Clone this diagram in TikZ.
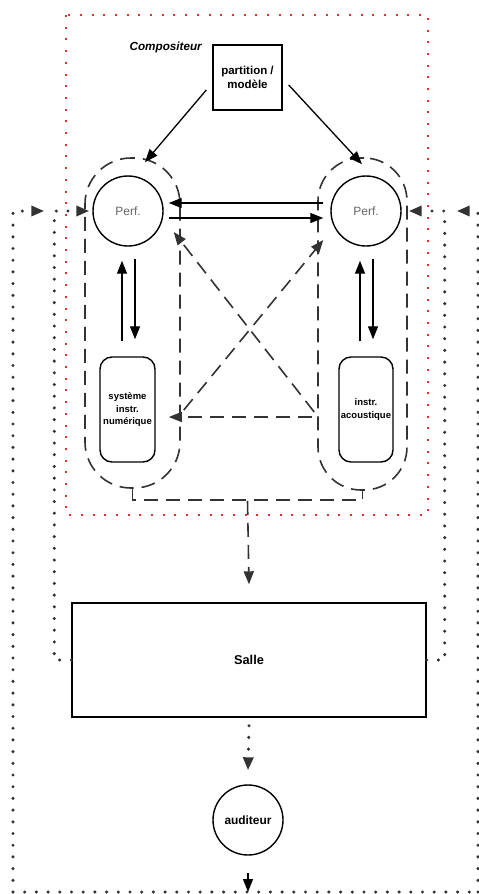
\documentclass[tikz,border=0pt]{standalone}
\usepackage{fontspec}
\setmainfont{Liberation Sans}
\usetikzlibrary{
    arrows.meta,
    positioning,
    calc
}

\begin{document}
\begin{tikzpicture}[
    x=1pt,y=-1pt,
    font=\fontsize{11.5}{14}\selectfont,
    box/.style={draw,line width=1.4pt,inner sep=0pt,align=center},
    perf/.style={circle,draw,line width=1.4pt,minimum size=70pt,inner sep=0pt,text=black!60,font=\fontsize{12}{14}\selectfont},
    instr/.style={box,rounded corners=12pt,minimum width=55pt,minimum height=105pt,font=\bfseries\fontsize{9.5}{12.5}\selectfont},
    group/.style={draw=black!80,line width=1.6pt,dash pattern=on 14pt off 8pt,inner sep=0pt},
    arr/.style={-{Triangle[length=13pt,width=10pt]},line width=1.3pt},
    dasharr/.style={arr,draw=black!80,line width=1.6pt,dash pattern=on 14pt off 8pt},
    dotline/.style={line width=3.4pt,line cap=round,dash pattern=on 0pt off 11.7pt,draw=black!80},
    dotarr/.style={dotline,-{Triangle[length=13pt,width=10pt]}},
    reddot/.style={draw=red!80!black!80,line width=2.8pt,dash pattern=on 2pt off 9.7pt}
]
    \useasboundingbox (0,0) rectangle (479,894);

    % Compositeur frame
    \draw[reddot] (66,15) rectangle (428,515);

    \node[box,minimum width=69pt,minimum height=65pt,font=\bfseries\fontsize{11.5}{14}\selectfont] (comp) at (247.5,77.5) {partition /\\modèle};
    \node[anchor=east,font=\bfseries\itshape\fontsize{11.7}{14}\selectfont] (compo) at ($(comp.north west)+(-7,3)$) {Compositeur};

    % performer + instrument groups
    \node[group,minimum width=95pt,minimum height=330pt,rounded corners=46pt] (groupL) at (132.5,323) {};
    \node[group,minimum width=89pt,minimum height=332pt,rounded corners=43pt] (groupR) at (362.5,324) {};

    \node[perf] (perfL) at (128,211) {Perf.};
    \node[perf] (perfR) at (366,211) {Perf.};
    \node[instr] (numL) at (127.5,409.5) {système\\instr.\\numérique};
    \node[instr,minimum width=54pt] (acoR) at (366,409.5) {instr.\\acoustique};

    \draw[arr] ($(comp.west)+(-6,12.5)$) -- ($(groupL.north)+(12.5,5)$);
    \draw[arr] ($(comp.east)+(6,7.5)$) -- ($(groupR.north)+(-0.5,7)$);

    \draw[arr] ($(perfR.west)+(-7,-8)$) -- ($(perfL.east)+(5,-8)$);
    \draw[arr] ($(perfL.east)+(5,7)$) -- ($(perfR.west)+(-7,7)$);

    \draw[arr] ($(numL.north)+(-5.5,-15)$) -- ($(perfL.south)+(-6,14)$);
    \draw[arr] ($(perfL.south)+(7,12)$) -- ($(numL.north)+(7.5,-17)$);
    \draw[arr] ($(acoR.north)+(-6,-15)$) -- ($(perfR.south)+(-6,14)$);
    \draw[arr] ($(perfR.south)+(7,12)$) -- ($(acoR.north)+(7,-17)$);

    % crossed exchanges
    \draw[dasharr] ($(groupR.west)+(-3,88)$) -- ($(perfL.east)+(10,21)$);
    \draw[dasharr] ($(groupL.east)+(3,87)$) -- ($(perfR.west)+(-7,29)$);
    \draw[dasharr] ($(groupR.west)+(-5,93)$) -- ($(groupL.east)+(-12,94)$);

    % towards the hall
    \coordinate (mid) at ($(groupL.south)!0.5!(groupR.south)+(0,11)$);
    \draw[group] (groupL.south) -- ++(0,11) -| (groupR.south);
    \node[box,minimum width=354pt,minimum height=114pt,font=\bfseries\fontsize{12.8}{15}\selectfont] (salle) at (249,660) {Salle};
    \draw[dasharr] (mid) -- ($(salle.north)+(0,-18)$);

    \node[perf,text=black,font=\bfseries\fontsize{11.9}{14}\selectfont] (aud) at (248,820) {auditeur};
    \draw[dotarr] ($(salle.south)+(0,8)$) -- ($(aud.north)+(0,-14)$);

    % feedback loops
    \coordinate (bl) at (13,892);
    \coordinate (br) at (478,892);
    \draw[dotline] (bl) -- (br);
    \draw[arr] ($(aud.south)+(0,17)$) -- (aud.south |- bl);
    \draw[dotarr] (bl) |- ($(perfL.west)+(-48,0)$);
    \draw[dotarr] (br) |- ($(perfR.east)+(55,0)$);
    \draw[dotarr] (salle.west) -- ++(-17,0) |- ($(perfL.west)+(-3,0)$);
    \draw[dotarr] (salle.east) -- ++(18,0) |- ($(perfR.east)+(7,0)$);
\end{tikzpicture}
\end{document}
